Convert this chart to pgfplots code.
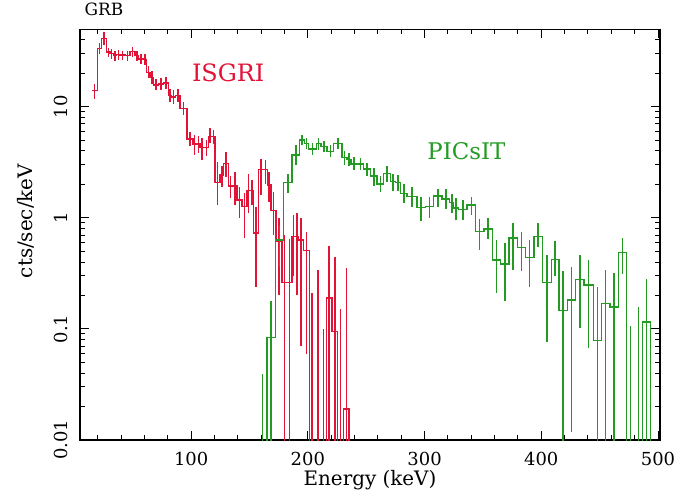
\documentclass[border=0pt]{standalone}
\usepackage{pgfplots}
\pgfplotsset{compat=1.18}
\usepackage{pgfplotstable}
\usepackage{fontspec}
\setmainfont{DejaVu Serif}

\definecolor{isgri}{RGB}{225,20,55}
\definecolor{picsit}{RGB}{35,155,35}

% ISGRI spectrum: bin edges, rate, error range (last row closes the histogram)
\pgfplotstableread{
lo    hi    y      ylo    yhi
14.8  19.7  13.9   11.7   16.0
19.7  23.4  33.6   30     37.5
23.4  27.7  41.3   36     47
27.7  30.5  31     28     34
30.5  33.4  30     27     33
33.4  36.2  28.8   26     32
36.2  39.1  29.5   26.5   32.5
39.1  43.4  29.2   26.5   32
43.4  47.7  28.8   26     32
47.7  52.0  31.3   28     34.5
52.0  54.8  29     26     32
54.8  59.0  26.9   24     30
59.0  62.0  26.5   23.5   29.5
62.0  64.8  20.4   18     23
64.8  67.7  18.4   16     21
67.7  72.0  15.7   14     17.8
72.0  76.3  16.0   14     18
76.3  80.5  16.3   14.3   18.5
80.5  83.0  12.6   11     14.5
83.0  86.5  12.2   10.6   14
86.5  90.6  12.6   11     14.4
90.6  96.3  9.6    8.4    11
96.3  101.5 5.1    4.4    5.9
101.5 104.6 4.6    3.7    5.6
104.6 107.7 4.6    3.8    5.5
107.7 111.3 4.3    3.3    5.2
111.3 114.9 4.3    3.6    5.0
114.9 117.7 5.4    4.7    6.4
117.7 120.6 5.4    4.6    6.2
120.6 124.9 2.07   1.3    3.2
124.9 127.7 2.43   1.9    2.9
127.7 132.0 3.09   2.35   3.9
132.0 135.5 1.93   1.5    2.4
135.5 139.2 1.93   1.3    2.6
139.2 143.5 1.45   1.0    1.9
143.5 147.8 1.26   0.66   1.66
147.8 150.6 1.75   1.1    2.5
150.6 153.5 1.75   1.3    2.2
153.5 157.8 0.73   0.24   1.26
157.8 161.6 2.73   1.6    3.4
161.6 165.5 2.73   2.0    3.3
165.5 168.4 1.97   1.4    2.6
168.4 172.7 1.17   0.7    1.7
172.7 177.8 0.61   0.2    1.0
177.8 182.1 0.26   0.0001 0.7
182.1 186.4 0.26   0.0001 0.65
186.4 189.2 0.68   0.3    1.05
189.2 192.0 0.68   0.2    1.1
192.0 196.3 0.63   0.07   1.0
196.3 201.5 0.51   0.06   0.74
201.5 206.0 0.0001 0.0001 0.21
206.0 211.0 0.0001 0.0001 0.34
211.0 215.8 0.0001 0.0001 0.1
215.8 220.7 0.19   0.0001 0.56
220.7 225.6 0.095  0.0001 0.44
225.6 230.5 0.0001 0.0001 0.15
230.5 235.4 0.019  0.0001 0.35
235.4 235.4 0.0001 0.0001 0.0001
}\isgritab

% PICsIT spectrum
\pgfplotstableread{
lo    hi    y      ylo    yhi
157.5 164.9 0.0001 0.0001 0.039
164.9 172.1 0.084  0.0001 0.18
172.1 179.2 0.63   0.36   0.86
179.2 186.4 2.07   1.67   2.5
186.4 192.9 3.67   3.0    4.5
192.9 196.9 5.0    4.5    5.6
196.9 200.7 4.68   4.2    5.2
200.7 207.2 4.16   3.67   4.7
207.2 211.3 4.68   4.1    5.2
211.3 216.4 4.37   3.9    4.9
216.4 222.1 3.94   3.5    4.5
222.1 229.3 4.68   4.2    5.2
229.3 233.6 3.47   3.0    4.0
233.6 237.0 3.36   2.95   3.8
237.0 242.1 3.05   2.7    3.5
242.1 247.8 3.05   2.7    3.45
247.8 253.6 2.74   2.4    3.1
253.6 259.3 2.38   1.95   2.8
259.3 265.0 2.01   1.7    2.4
265.0 270.7 2.51   2.1    2.9
270.7 275.0 2.11   1.75   2.5
275.0 279.3 2.07   1.75   2.45
279.3 285.0 1.66   1.35   2.0
285.0 293.6 1.55   1.25   1.9
293.6 300.7 1.23   0.93   1.55
300.7 307.9 1.26   1.0    1.55
307.9 315.1 1.57   1.26   1.8
315.1 321.6 1.47   1.2    1.8
321.6 325.0 1.37   1.1    1.65
325.0 329.3 1.22   0.95   1.5
329.3 336.5 1.19   0.95   1.45
336.5 343.6 1.30   1.05   1.55
343.6 350.8 0.75   0.51   0.97
350.8 358.0 0.79   0.64   1.0
358.0 365.1 0.417  0.21   0.63
365.1 372.2 0.384  0.18   0.59
372.2 379.4 0.66   0.34   0.9
379.4 386.5 0.54   0.33   0.75
386.5 393.6 0.44   0.24   0.63
393.6 400.8 0.68   0.55   0.9
400.8 408.8 0.26   0.077  0.46
408.8 415.1 0.42   0.30   0.62
415.1 422.3 0.146  0.0001 0.33
422.3 429.4 0.182  0.0118 0.36
429.4 436.5 0.278  0.102  0.46
436.5 444.6 0.248  0.068  0.42
444.6 451.4 0.079  0.0001 0.24
451.4 458.8 0.17   0.0001 0.34
458.8 466.0 0.158  0.0001 0.32
466.0 473.1 0.49   0.31   0.66
473.1 480.0 0.0001 0.0001 0.107
480.0 486.6 0.0001 0.0001 0.158
486.6 493.7 0.115  0.0001 0.28
493.7 493.7 0.0001 0.0001 0.0001
}\picsittab

\begin{document}
\begin{tikzpicture}
\path[use as bounding box] (-80bp,-57bp) rectangle (611bp,440bp);
\begin{axis}[
    at={(0,0)}, anchor=south west,
    scale only axis,
    width=580bp, height=410.5bp,
    ymode=log,
    xmin=4.8, xmax=501.7,
    ymin=0.01, ymax=49.5,
    xtick={100,200,300,400,500},
    minor xtick={20,40,...,480},
    ytick={0.01,0.1,1,10},
    yticklabels={0.01,0.1,1,10},
    minor ytick={0.02,0.03,0.04,0.05,0.06,0.07,0.08,0.09,0.2,0.3,0.4,0.5,0.6,0.7,0.8,0.9,2,3,4,5,6,7,8,9,20,30,40},
    tick align=inside,
    xtick pos=both, ytick pos=both,
    major tick length=9bp, minor tick length=5bp,
    axis line style={line width=1.2bp},
    every tick/.style={black, line width=1bp},
    /pgf/number format/assume math mode=true,
    ticklabel style={font=\fontsize{18}{20}\selectfont},
    xticklabel style={anchor=base, yshift=-25bp},
    yticklabel style={xshift=-12bp, rotate=90, anchor=base},
    xlabel={Energy (keV)},
    ylabel={cts/sec/keV},
    label style={font=\fontsize{20}{22}\selectfont},
    xlabel style={at={(axis description cs:0.5,-0.112)}, anchor=base},
    ylabel style={at={(axis description cs:-0.0817,0.5335)}, anchor=base},
    title={GRB},
    title style={at={(axis description cs:0.002,1.0207)}, anchor=base west, font=\fontsize{17}{19}\selectfont},
]
% ISGRI
\addplot[draw=isgri, line width=1.4bp, const plot mark left, mark=none]
    table[x=lo, y=y] {\isgritab};
\addplot[draw=none, mark=none,
    error bars/.cd, y dir=both, y explicit, error mark=none,
    error bar style={draw=isgri, line width=1.6bp}]
    table[x expr={(\thisrow{lo}+\thisrow{hi})/2}, y=y,
          y error plus expr={\thisrow{yhi}-\thisrow{y}},
          y error minus expr={\thisrow{y}-\thisrow{ylo}}] {\isgritab};
% PICsIT
\addplot[draw=picsit, line width=1.4bp, const plot mark left, mark=none]
    table[x=lo, y=y] {\picsittab};
\addplot[draw=none, mark=none,
    error bars/.cd, y dir=both, y explicit, error mark=none,
    error bar style={draw=picsit, line width=1.6bp}]
    table[x expr={(\thisrow{lo}+\thisrow{hi})/2}, y=y,
          y error plus expr={\thisrow{yhi}-\thisrow{y}},
          y error minus expr={\thisrow{y}-\thisrow{ylo}}] {\picsittab};

\node[text=isgri, font=\fontsize{24}{28}\selectfont] at (axis cs:131.8,20) {ISGRI};
\node[text=picsit, font=\fontsize{23}{27}\selectfont] at (axis cs:335.9,3.99) {PICsIT};
\end{axis}
\end{tikzpicture}
\end{document}
